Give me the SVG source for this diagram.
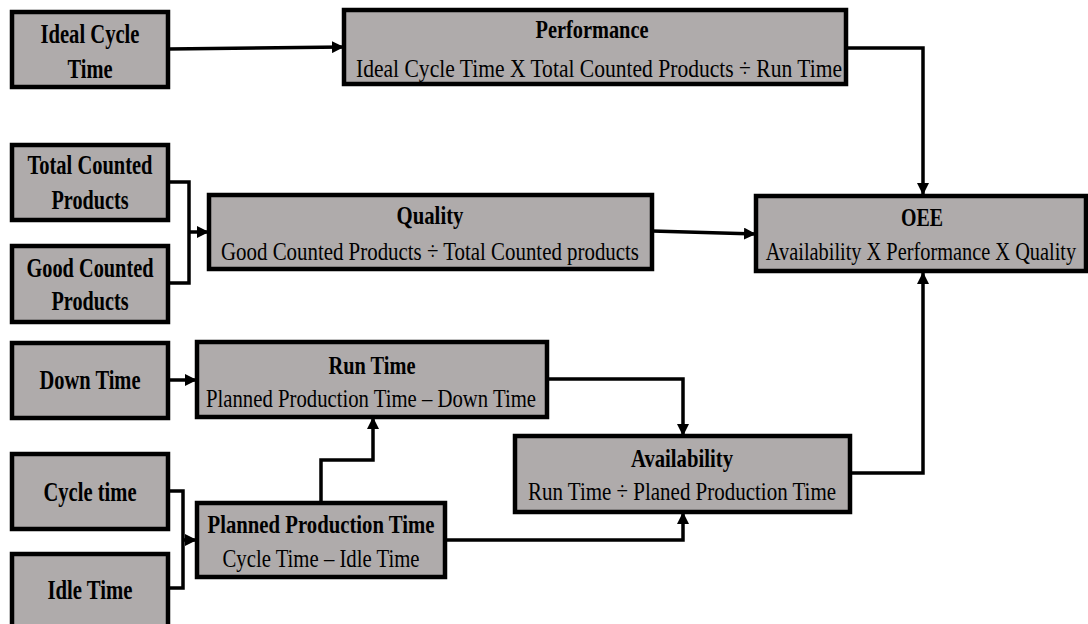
<svg xmlns="http://www.w3.org/2000/svg" width="1088" height="624" viewBox="0 0 1088 624">
  <style>
    .box { fill: #afabab; stroke: #000; stroke-width: 4.5; }
    .lbl { font-family: "Liberation Serif", "Times New Roman", serif; font-size: 27px; font-weight: bold; fill: #000; text-anchor: middle; }
    .ttl { font-family: "Liberation Serif", "Times New Roman", serif; font-size: 25px; font-weight: bold; fill: #000; text-anchor: middle; }
    .sub { font-family: "Liberation Serif", "Times New Roman", serif; font-size: 26px; fill: #000; text-anchor: middle; }
    .wire { fill: none; stroke: #000; stroke-width: 3.5; stroke-linejoin: miter; }
  </style>
  <defs>
    <marker id="arrow" viewBox="0 0 10 10" refX="10" refY="5" markerWidth="12" markerHeight="12" markerUnits="userSpaceOnUse" orient="auto">
      <path d="M0,0 L10,5 L0,10 z" fill="#000"/>
    </marker>
  </defs>

  <rect width="1088" height="624" fill="#fff"/>

  <!-- connectors -->
  <g id="connectors">
    <path class="wire" d="M168,49 L344,47" marker-end="url(#arrow)"/>
    <path class="wire" d="M846,48 L923,48 L923,195" marker-end="url(#arrow)"/>
    <path class="wire" d="M168,182 L189,182 L189,283 L168,283"/>
    <path class="wire" d="M189,232 L209,232" marker-end="url(#arrow)"/>
    <path class="wire" d="M652,231 L756,234" marker-end="url(#arrow)"/>
    <path class="wire" d="M168,380 L197,380" marker-end="url(#arrow)"/>
    <path class="wire" d="M547,379 L683,379 L683,436" marker-end="url(#arrow)"/>
    <path class="wire" d="M168,491 L183,491 L183,588 L168,588"/>
    <path class="wire" d="M183,540 L197,540" marker-end="url(#arrow)"/>
    <path class="wire" d="M321,503 L321,460 L373,460 L373,417" marker-end="url(#arrow)"/>
    <path class="wire" d="M445,540 L683,540 L683,512" marker-end="url(#arrow)"/>
    <path class="wire" d="M850,473 L923,473 L923,272" marker-end="url(#arrow)"/>
  </g>

  <!-- input nodes -->
  <g id="ideal-cycle-time">
    <rect class="box" x="12" y="12" width="156" height="75"/>
    <text class="lbl" x="90" y="43" textLength="99" lengthAdjust="spacingAndGlyphs">Ideal Cycle</text>
    <text class="lbl" x="90" y="78" textLength="45" lengthAdjust="spacingAndGlyphs">Time</text>
  </g>
  <g id="total-counted-products">
    <rect class="box" x="12" y="145" width="156" height="75"/>
    <text class="lbl" x="90" y="174" textLength="125" lengthAdjust="spacingAndGlyphs">Total Counted</text>
    <text class="lbl" x="90" y="209" textLength="77" lengthAdjust="spacingAndGlyphs">Products</text>
  </g>
  <g id="good-counted-products">
    <rect class="box" x="12" y="246" width="156" height="76"/>
    <text class="lbl" x="90" y="277" textLength="127" lengthAdjust="spacingAndGlyphs">Good Counted</text>
    <text class="lbl" x="90" y="310" textLength="77" lengthAdjust="spacingAndGlyphs">Products</text>
  </g>
  <g id="down-time">
    <rect class="box" x="12" y="343" width="156" height="75"/>
    <text class="lbl" x="90" y="389" textLength="101" lengthAdjust="spacingAndGlyphs">Down Time</text>
  </g>
  <g id="cycle-time">
    <rect class="box" x="12" y="454" width="156" height="75"/>
    <text class="lbl" x="90" y="501" textLength="93" lengthAdjust="spacingAndGlyphs">Cycle time</text>
  </g>
  <g id="idle-time">
    <rect class="box" x="12" y="554" width="156" height="76"/>
    <text class="lbl" x="90" y="599" textLength="85" lengthAdjust="spacingAndGlyphs">Idle Time</text>
  </g>

  <!-- formula nodes -->
  <g id="performance">
    <rect class="box" x="344" y="10" width="502" height="74"/>
    <text class="ttl" x="592" y="38" textLength="113" lengthAdjust="spacingAndGlyphs">Performance</text>
    <text class="sub" x="599" y="77" textLength="486" lengthAdjust="spacingAndGlyphs">Ideal Cycle Time X Total Counted Products ÷ Run Time</text>
  </g>
  <g id="quality">
    <rect class="box" x="209" y="195" width="443" height="74"/>
    <text class="ttl" x="430" y="224" textLength="67" lengthAdjust="spacingAndGlyphs">Quality</text>
    <text class="sub" x="430" y="260" textLength="418" lengthAdjust="spacingAndGlyphs">Good Counted Products ÷ Total Counted products</text>
  </g>
  <g id="oee">
    <rect class="box" x="756" y="196" width="330" height="75"/>
    <text class="ttl" x="922" y="226" textLength="42" lengthAdjust="spacingAndGlyphs">OEE</text>
    <!-- narrowed with a horizontal scale so the line stays inside the box -->
    <text class="sub" transform="translate(921,260) scale(0.77,1)" x="0" y="0" textLength="403" lengthAdjust="spacingAndGlyphs">Availability X Performance X Quality</text>
  </g>
  <g id="run-time">
    <rect class="box" x="197" y="342" width="350" height="75"/>
    <text class="ttl" x="372" y="374" textLength="87" lengthAdjust="spacingAndGlyphs">Run Time</text>
    <text class="sub" x="371" y="407" textLength="330" lengthAdjust="spacingAndGlyphs">Planned Production Time – Down Time</text>
  </g>
  <g id="planned-production-time">
    <rect class="box" x="197" y="503" width="248" height="74"/>
    <text class="ttl" x="321" y="533" textLength="227" lengthAdjust="spacingAndGlyphs">Planned Production Time</text>
    <text class="sub" x="321" y="567" textLength="197" lengthAdjust="spacingAndGlyphs">Cycle Time – Idle Time</text>
  </g>
  <g id="availability">
    <rect class="box" x="515" y="436" width="335" height="76"/>
    <text class="ttl" x="682" y="467" textLength="102" lengthAdjust="spacingAndGlyphs">Availability</text>
    <text class="sub" x="682" y="500" textLength="308" lengthAdjust="spacingAndGlyphs">Run Time ÷ Planed Production Time</text>
  </g>
</svg>
